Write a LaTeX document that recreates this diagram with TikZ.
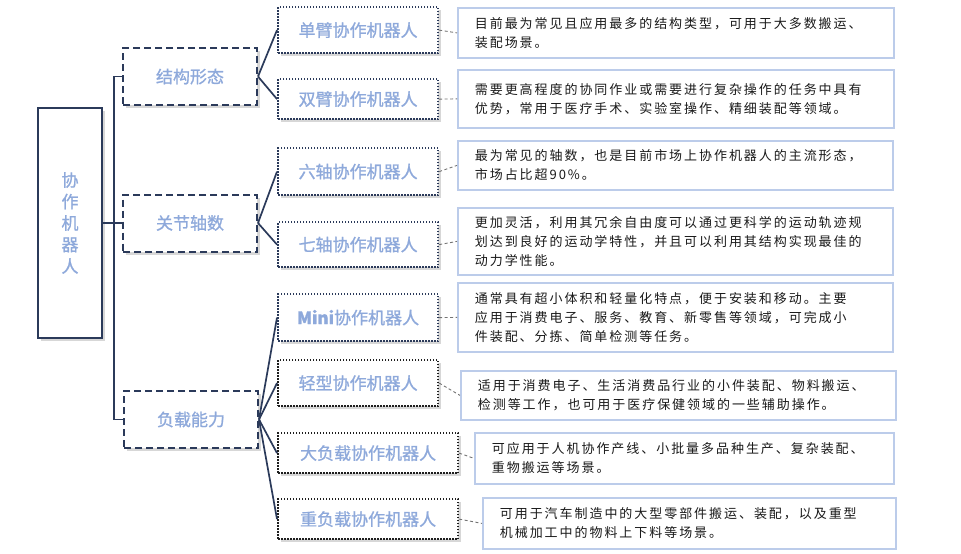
\documentclass[tikz,border=0pt]{standalone}
\usepackage{fontspec}
\newfontfamily\cjk[FakeBold=1]{Noto Sans CJK SC}
\newfontfamily\cjkdesc[LetterSpace=15]{Noto Sans CJK SC}
\usetikzlibrary{shadows}
\definecolor{navy}{HTML}{2B3A5A}
\definecolor{lblue}{HTML}{8EA9DB}
\definecolor{dblue}{HTML}{BCCCEA}
\definecolor{dk}{HTML}{1E1E1E}
\definecolor{txt}{HTML}{1A1A1A}
\tikzset{
  shad/.style={drop shadow={opacity=0.35, shadow xshift=3pt, shadow yshift=-3pt, fill=black!45}},
  rootbox/.style={draw=navy, line width=2.2pt, fill=white, shad, minimum width=64pt, minimum height=230pt,
    text=lblue, align=center, font=\cjk\fontsize{17}{21.5}\selectfont},
  catbox/.style={draw=navy, line width=2pt, dash pattern=on 7pt off 4pt, fill=white, shad,
    minimum width=134pt, minimum height=57pt, text=lblue, font=\cjk\fontsize{17}{20}\selectfont},
  subbox/.style={draw=navy, line width=2.2pt, dash pattern=on 1.5pt off 1.5pt, fill=white, shad,
    anchor=north west, minimum width=160pt, text=lblue, font=\cjk\fontsize{17}{20}\selectfont},
  subdk/.style={subbox, draw=dk},
  desc/.style={draw=dblue, line width=1.8pt, fill=white, anchor=north west, inner xsep=17pt,
    align=left, text=txt, font=\cjkdesc\fontsize{13}{19}\selectfont},
  conn/.style={draw=navy, line width=1.7pt},
  dconn/.style={draw=black!55, line width=0.9pt, dash pattern=on 3pt off 2.5pt},
}
\begin{document}
\begin{tikzpicture}[x=1pt,y=-1pt]
\useasboundingbox (0,0) rectangle (961,554);
% root
\node[rootbox] (root) at (70,223) {协\\作\\机\\器\\人};
% categories
\node[catbox] (c1) at (190,76.5) {结构形态};
\node[catbox] (c2) at (190,223) {关节轴数};
\node[catbox] (c3) at (191,419.5) {负载能力};
% subtypes
\node[subbox, minimum height=46pt] (s1) at (277,6) {单臂协作机器人};
\node[subbox, minimum height=40pt] (s2) at (277,78) {双臂协作机器人};
\node[subbox, minimum height=47pt] (s3) at (277,147) {六轴协作机器人};
\node[subbox, minimum height=45pt] (s4) at (277,221) {七轴协作机器人};
\node[subbox, minimum height=47pt] (s5) at (277,293) {{\bfseries Mini}协作机器人};
\node[subdk, minimum height=46pt] (s6) at (277,359) {轻型协作机器人};
\node[subdk, minimum height=40pt, minimum width=180pt] (s7) at (277,432) {大负载协作机器人};
\node[subdk, minimum height=40pt, minimum width=180pt] (s8) at (277,498) {重负载协作机器人};
% descriptions
\node[desc, text width=402pt, minimum height=50pt] (d1) at (457,7)
  {目前最为常见且应用最多的结构类型，可用于大多数搬运、\\装配场景。};
\node[desc, text width=402pt, minimum height=58pt] (d2) at (457,69)
  {需要更高程度的协同作业或需要进行复杂操作的任务中具有\\优势，常用于医疗手术、实验室操作、精细装配等领域。};
\node[desc, text width=401pt, minimum height=49pt] (d3) at (457,140)
  {最为常见的轴数，也是目前市场上协作机器人的主流形态，\\市场占比超90\%。};
\node[desc, text width=401pt, minimum height=67pt] (d4) at (457,207)
  {更加灵活，利用其冗余自由度可以通过更科学的运动轨迹规\\划达到良好的运动学特性，并且可以利用其结构实现最佳的\\动力学性能。};
\node[desc, text width=401pt, minimum height=69pt] (d5) at (457,282)
  {通常具有超小体积和轻量化特点，便于安装和移动。主要\\应用于消费电子、服务、教育、新零售等领域，可完成小\\件装配、分拣、简单检测等任务。};
\node[desc, text width=401pt, minimum height=49pt] (d6) at (460,370)
  {适用于消费电子、生活消费品行业的小件装配、物料搬运、\\检测等工作，也可用于医疗保健领域的一些辅助操作。};
\node[desc, text width=385pt, minimum height=51pt] (d7) at (474,432)
  {可应用于人机协作产线、小批量多品种生产、复杂装配、\\重物搬运等场景。};
\node[desc, text width=379pt, minimum height=51pt] (d8) at (482,497)
  {可用于汽车制造中的大型零部件搬运、装配，以及重型\\机械加工中的物料上下料等场景。};
% trunk connectors
\draw[conn] (root.east) -- ++(11,0) |- (c1.west);
\draw[conn] (root.east) -- ++(11,0) |- (c3.west);
\draw[conn] (root.east) -- (c2.west);
% category to subtypes
\draw[conn] (c1.east) -- (s1.west);
\draw[conn] (c1.east) -- (s2.west);
\draw[conn] (c2.east) -- (s3.west);
\draw[conn] (c2.east) -- (s4.west);
\draw[conn] (c3.east) -- (s5.west);
\draw[conn] (c3.east) -- (s6.west);
\draw[conn] (c3.east) -- (s7.west);
\draw[conn] (c3.east) -- (s8.west);
% subtypes to descriptions
\draw[dconn] (s1.east) -- (d1.west);
\draw[dconn] (s2.east) -- (d2.west);
\draw[dconn] (s3.east) -- (d3.west);
\draw[dconn] (s4.east) -- (d4.west);
\draw[dconn] (s5.east) -- (d5.west);
\draw[dconn] (s6.east) -- (d6.west);
\draw[dconn] (s7.east) -- (d7.west);
\draw[dconn] (s8.east) -- (d8.west);
\end{tikzpicture}
\end{document}
